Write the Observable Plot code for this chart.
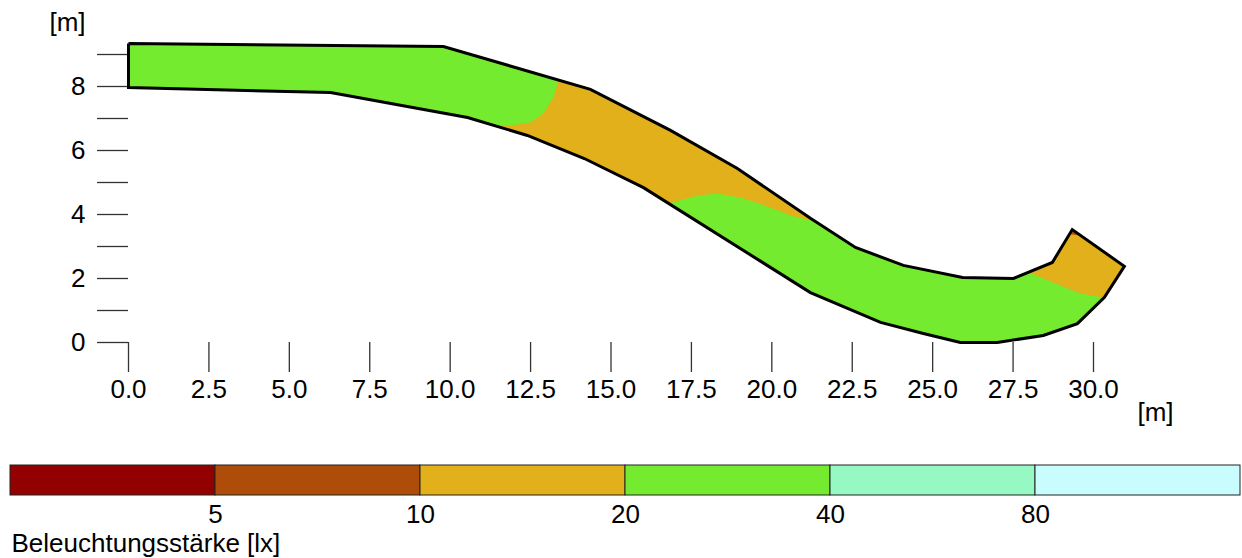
<!DOCTYPE html>
<html>
<head>
<meta charset="utf-8">
<script src="https://cdn.jsdelivr.net/npm/d3@7"></script>
<script src="https://cdn.jsdelivr.net/npm/@observablehq/plot@0.6"></script>
<style>
  html, body { margin: 0; padding: 0; background: white; }
  #chart svg { display: block; }
</style>
</head>
<body>
<div id="chart"></div>
<script>
// ---- data (metres) ----
const roadOutline = [
  [0.00, 9.34], [9.79, 9.25], [14.36, 7.91], [16.85, 6.63], [18.93, 5.44],
  [21.20, 3.88], [22.60, 2.97], [24.09, 2.41], [25.93, 2.03], [27.51, 2.00],
  [28.72, 2.50], [29.34, 3.53], [30.96, 2.38], [30.34, 1.41], [29.50, 0.59],
  [28.44, 0.22], [27.01, 0.00], [25.86, 0.00], [24.71, 0.28], [23.38, 0.63],
  [21.20, 1.56], [16.01, 4.84], [14.17, 5.75], [12.40, 6.47], [10.54, 7.03],
  [6.28, 7.81], [0.00, 7.97]
];
const zoneMiddle = [
  [13.37, 8.19], [14.36, 7.91], [16.85, 6.63], [18.93, 5.44], [21.20, 3.88],
  [21.36, 3.78], [20.58, 3.97], [19.96, 4.22], [19.02, 4.53], [18.31, 4.66],
  [17.69, 4.59], [16.79, 4.34], [16.01, 4.84], [14.17, 5.75], [12.40, 6.47],
  [11.41, 6.78], [11.87, 6.78], [12.50, 6.88], [12.90, 7.16], [13.21, 7.66]
];
const zoneEnd = [
  [27.98, 2.19], [28.72, 2.50], [29.34, 3.53], [30.96, 2.38], [30.34, 1.41],
  [29.59, 1.53], [28.97, 1.78]
];
const zoneTip = [[29.34, 3.53], [29.62, 3.34], [29.25, 3.38]];

const bandNames  = ["< 5", "5–10", "10–20", "20–40", "40–80", "> 80"];
const bandColors = ["#930000", "#ae4c0a", "#e2b01b", "#74eb2f", "#96f9c3", "#c9fcfd"];
const thresholdLabels = [5, 10, 20, 40, 80];

const xTicks = [0, 2.5, 5, 7.5, 10, 12.5, 15, 17.5, 20, 22.5, 25, 27.5, 30];
const yTicks = [0, 1, 2, 3, 4, 5, 6, 7, 8, 9];
const yLabeled = [0, 2, 4, 6, 8];

const zones = [
  {id: "road", band: "20–40", pts: roadOutline},
  {id: "middle", band: "10–20", pts: zoneMiddle},
  {id: "end", band: "10–20", pts: zoneEnd},
  {id: "tip", band: "5–10", pts: zoneTip}
];
const zoneRows = zones.flatMap(z => z.pts.map(p => ({id: z.id, band: z.band, x: p[0], y: p[1]})));
const outlineRows = [...roadOutline, roadOutline[0]].map(p => ({x: p[0], y: p[1]}));

const font = "Liberation Sans, Arial, Helvetica, sans-serif";
const fs = 26;

const main = Plot.plot({
  width: 1242, height: 440,
  marginLeft: 128, marginRight: 149, marginTop: 54, marginBottom: 98,
  x: {domain: [0, 30]},
  y: {domain: [0, 9]},
  color: {type: "ordinal", domain: bandNames, range: bandColors},
  style: {fontFamily: font, fontSize: fs + "px", color: "black", background: "white", overflow: "visible"},
  marks: [
    Plot.axisX({ticks: xTicks, tickSize: 30, tickPadding: 7, tickFormat: d => d.toFixed(1), label: null, stroke: "#333", strokeWidth: 1.3, fill: "black", fontSize: fs}),
    Plot.axisY({ticks: yTicks, tickSize: 31, tickPadding: 12, tickFormat: d => yLabeled.includes(d) ? String(d) : "", label: null, stroke: "#333", strokeWidth: 1.3, fill: "black", fontSize: fs}),
    Plot.line(zoneRows, {x: "x", y: "y", z: "id", fill: "band", stroke: null, strokeWidth: 0}),
    Plot.line(outlineRows, {x: "x", y: "y", stroke: "black", strokeWidth: 3, strokeLinejoin: "miter", strokeMiterlimit: 10, strokeLinecap: "butt"}),
    Plot.text(["[m]"], {text: d => d, frameAnchor: "top-left", dx: -61, dy: -32, textAnchor: "middle", lineAnchor: "middle", fontSize: fs}),
    Plot.text(["[m]"], {text: d => d, frameAnchor: "bottom-right", dx: 62, dy: 70, textAnchor: "middle", lineAnchor: "middle", fontSize: fs})
  ]
});

const legendRows = bandNames.map((b, i) => ({band: b, i}));
const legend = Plot.plot({
  width: 1242, height: 118,
  marginLeft: 10, marginRight: 2, marginTop: 25, marginBottom: 63,
  x: {domain: [0, bandNames.length], axis: null},
  color: {type: "ordinal", domain: bandNames, range: bandColors},
  style: {fontFamily: font, fontSize: fs + "px", color: "black", background: "white", overflow: "visible"},
  marks: [
    Plot.rect(legendRows, {x1: "i", x2: d => d.i + 1, fill: "band", stroke: "#222", strokeWidth: 1}),
    Plot.text(thresholdLabels, {x: (d, i) => i + 1, text: d => String(d), frameAnchor: "bottom", dy: 9, lineAnchor: "top", textAnchor: "middle", fontSize: fs}),
    Plot.text(["Beleuchtungsstärke [lx]"], {text: d => d, frameAnchor: "bottom-left", dx: 1, dy: 38, lineAnchor: "top", textAnchor: "start", fontSize: fs})
  ]
});

const el = document.getElementById("chart");
el.append(main, legend);
</script>
</body>
</html>
